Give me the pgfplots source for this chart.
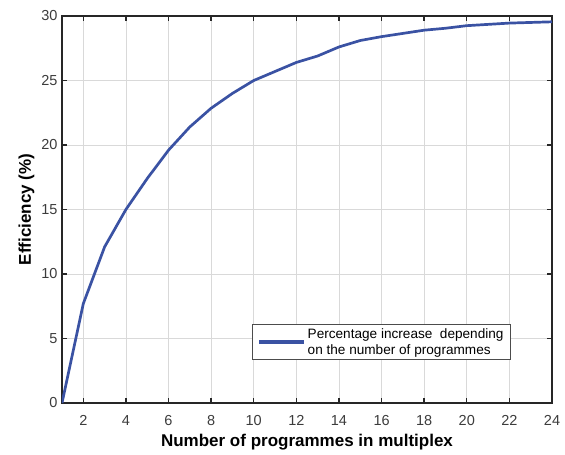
\documentclass[border=0pt]{standalone}
\usepackage{pgfplots}
\pgfplotsset{compat=1.18}
\usepackage{fontspec}
\setmainfont{Liberation Sans}
\setsansfont{Liberation Sans}
\definecolor{lineblue}{RGB}{58,82,163}
\definecolor{ticktext}{RGB}{60,60,60}
\begin{document}
\begin{tikzpicture}
\useasboundingbox (-62pt,-52pt) rectangle (503pt,403pt);
\begin{axis}[
  at={(0,0)}, anchor=south west,
  scale only axis,
  width=490pt, height=387pt,
  xmin=1, xmax=24, ymin=0, ymax=30,
  xtick={2,4,...,24},
  ytick={0,5,...,30},
  grid=major,
  major grid style={color=black!15, line width=0.8pt},
  axis line style={color=black!85, line width=1.4pt},
  tick style={color=black!85, line width=1.4pt},
  major tick length=5pt,
  tick align=inside,
  /pgf/number format/assume math mode=true,
  ticklabel style={font=\fontsize{14.5}{16}\selectfont, text=ticktext},
  xticklabel style={yshift=-9pt},
  yticklabel style={xshift=-1pt},
  xlabel={\textbf{Number of programmes in multiplex}},
  ylabel={\textbf{Efficiency (\%)}},
  label style={font=\fontsize{17}{19}\selectfont},
  xlabel style={yshift=-2pt},
  ylabel style={yshift=0pt},
  legend style={at={(0.388,0.111)}, anchor=south west,
    draw=black!70, line width=0.8pt,
    font=\fontsize{13.6}{16}\selectfont,
    cells={align=left}, inner xsep=5pt, inner ysep=2pt},
  legend image code/.code={\draw[#1, line width=3.2pt] (0pt,0pt) -- (45pt,0pt);},
]
\addplot[color=lineblue, line width=2.7pt, line join=round] coordinates {
(1,0) (2,7.7) (3,12.1) (4,15.0) (5,17.4) (6,19.6) (7,21.4) (8,22.85)
(9,24.0) (10,25.0) (11,25.7) (12,26.4) (13,26.9) (14,27.6) (15,28.1)
(16,28.4) (17,28.65) (18,28.9) (19,29.05) (20,29.25) (21,29.35) (22,29.45)
(23,29.5) (24,29.55)
};
\addlegendentry{Percentage increase~ depending\\on the number of programmes}
\end{axis}
\end{tikzpicture}
\end{document}
